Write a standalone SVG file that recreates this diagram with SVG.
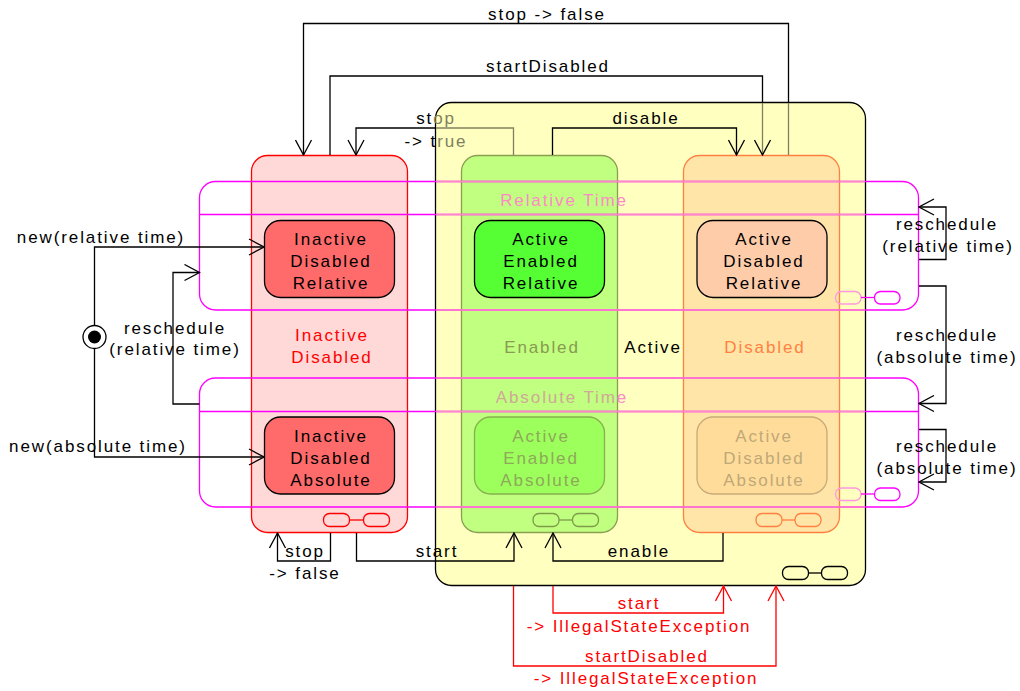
<svg xmlns="http://www.w3.org/2000/svg" width="1020" height="691" viewBox="0 0 1020 691">
<style>
text{font-family:"Liberation Sans",Arial,Helvetica,sans-serif;font-size:17px;letter-spacing:1.9px;text-anchor:middle;fill:#000}
.box{stroke-width:1.3}
.ico{fill:none;stroke-width:1.3}
.c{fill:none;stroke:#000;stroke-width:1.3}
.cg{fill:none;stroke:#808060;stroke-width:1.3}
.cr{fill:none;stroke:#ff0000;stroke-width:1.3}
.band{fill:none;stroke:#ff00ff;stroke-width:1.3}
.bandin{fill:none;stroke:#ff88c8;stroke-width:1.3}
</style>
<defs>
<marker id="a" viewBox="-16 -9 17 18" refX="0" refY="0" markerWidth="17" markerHeight="18" markerUnits="userSpaceOnUse" orient="auto"><path d="M-15,-8 L0,0 L-15,8" fill="none" stroke="#000" stroke-width="1.3"/></marker>
<marker id="ar" viewBox="-16 -9 17 18" refX="0" refY="0" markerWidth="17" markerHeight="18" markerUnits="userSpaceOnUse" orient="auto"><path d="M-15,-8 L0,0 L-15,8" fill="none" stroke="#ff0000" stroke-width="1.3"/></marker>
</defs>

<g id="active">
<rect class="box" x="435.5" y="102.5" width="430" height="483" rx="16" fill="#ffffc0" stroke="#000"/>
<rect class="ico" x="782.5" y="566.5" width="26" height="13" rx="6" stroke="#000"/>
<rect class="ico" x="821.5" y="566.5" width="26" height="13" rx="6" stroke="#000"/>
<line x1="808.5" y1="573" x2="821.5" y2="573" stroke="#000" stroke-width="1.3"/>
<text x="653" y="353">Active</text>
</g>

<g id="inactive-disabled">
<rect class="box" x="251.5" y="155.5" width="156" height="377" rx="16" fill="#ffd8d8" stroke="#ff0000"/>
<rect class="ico" x="323.5" y="513.5" width="26" height="13" rx="6" stroke="#ff0000"/>
<rect class="ico" x="363.5" y="513.5" width="26" height="13" rx="6" stroke="#ff0000"/>
<line x1="349.5" y1="520" x2="363.5" y2="520" stroke="#ff0000" stroke-width="1.3"/>
<text x="332" y="341" fill="#ff0000" style="fill:#ff0000">Inactive</text>
<text x="332" y="363" style="fill:#ff0000">Disabled</text>
</g>

<g id="enabled">
<rect class="box" x="461.5" y="155.5" width="156" height="377" rx="16" fill="#c0ff80" stroke="#8aa050"/>
<rect class="ico" x="533" y="513.5" width="26" height="13" rx="6" stroke="#7f9a48"/>
<rect class="ico" x="572.5" y="513.5" width="26" height="13" rx="6" stroke="#7f9a48"/>
<line x1="559" y1="520" x2="572.5" y2="520" stroke="#7f9a48" stroke-width="1.3"/>
<text x="542" y="353" style="fill:#8a9a50">Enabled</text>
</g>

<g id="disabled">
<rect class="box" x="683.5" y="155.5" width="156" height="377" rx="16" fill="#ffe6a8" stroke="#ff8040"/>
<rect class="ico" x="756" y="513.5" width="26" height="13" rx="6" stroke="#ff8040"/>
<rect class="ico" x="795" y="513.5" width="26" height="13" rx="6" stroke="#ff8040"/>
<line x1="782" y1="520" x2="795" y2="520" stroke="#ff8040" stroke-width="1.3"/>
<text x="765" y="353" style="fill:#ff8040">Disabled</text>
</g>

<g id="relative-time">
<rect class="band" x="199.5" y="181.5" width="719" height="128.5" rx="16"/>
<line class="band" x1="199.5" y1="214.5" x2="918.5" y2="214.5"/>
<path class="bandin" d="M436.2,181.5 H865 M436.2,214.5 H865 M436.2,310 H865"/>
<rect class="ico" x="835.5" y="291.5" width="25.5" height="12.5" rx="6" stroke="#ff99dd"/>
<rect class="ico" x="874.5" y="291.5" width="25.5" height="12.5" rx="6" stroke="#ff00ff"/>
<line x1="861" y1="297.5" x2="874.5" y2="297.5" stroke="#ff00ff" stroke-width="1.3"/>
<text x="564" y="206" style="fill:#ff88c8">Relative Time</text>
</g>

<g id="absolute-time">
<rect class="band" x="199.5" y="378" width="719" height="129" rx="16"/>
<line class="band" x1="199.5" y1="411.5" x2="918.5" y2="411.5"/>
<path class="bandin" d="M436.2,378 H865 M436.2,411.5 H865 M436.2,507 H865"/>
<rect class="ico" x="835.5" y="488" width="25.5" height="12.5" rx="6" stroke="#ff99dd"/>
<rect class="ico" x="874.5" y="488" width="25.5" height="12.5" rx="6" stroke="#ff00ff"/>
<line x1="861" y1="494" x2="874.5" y2="494" stroke="#ff00ff" stroke-width="1.3"/>
<text x="562" y="403"><tspan style="fill:#d0a898">Absolute Tim</tspan><tspan style="fill:#ff88c8">e</tspan></text>
</g>

<g id="inactive-disabled-relative">
<rect class="box" x="264.5" y="220.5" width="130" height="77" rx="16" fill="#ff6b6b" stroke="#000"/>
<text x="331" y="245">Inactive</text><text x="331" y="267">Disabled</text><text x="331" y="289">Relative</text>
</g>
<g id="active-enabled-relative">
<rect class="box" x="474.5" y="220.5" width="130" height="77" rx="16" fill="#55ff33" stroke="#000"/>
<text x="541" y="245">Active</text><text x="541" y="267">Enabled</text><text x="541" y="289">Relative</text>
</g>
<g id="active-disabled-relative">
<rect class="box" x="697" y="220.5" width="130" height="77" rx="16" fill="#ffccaa" stroke="#000"/>
<text x="764" y="245">Active</text><text x="764" y="267">Disabled</text><text x="764" y="289">Relative</text>
</g>
<g id="inactive-disabled-absolute">
<rect class="box" x="264.5" y="417" width="130" height="77" rx="16" fill="#ff6b6b" stroke="#000"/>
<text x="331" y="442">Inactive</text><text x="331" y="464">Disabled</text><text x="331" y="486">Absolute</text>
</g>
<g id="active-enabled-absolute">
<rect class="box" x="474.5" y="417" width="130" height="77" rx="16" fill="#9cff5c" stroke="#88b050"/>
<text x="541" y="442" style="fill:#8fa85a">Active</text><text x="541" y="464" style="fill:#8fa85a">Enabled</text><text x="541" y="486" style="fill:#8fa85a">Absolute</text>
</g>
<g id="active-disabled-absolute">
<rect class="box" x="697" y="417" width="130" height="77" rx="16" fill="#ffdc9a" stroke="#c8aa78"/>
<text x="764" y="442" style="fill:#c0a878">Active</text><text x="764" y="464" style="fill:#c0a878">Disabled</text><text x="764" y="486" style="fill:#c0a878">Absolute</text>
</g>

<g id="initial">
<circle cx="94.5" cy="337" r="11.5" fill="#fff" stroke="#000" stroke-width="1.3"/>
<circle cx="94.5" cy="337" r="6.5" fill="#000"/>
</g>

<g id="connectors">
<path class="c" d="M788.5,102 V23.5 H303.5 V155" marker-end="url(#a)"/>
<path class="cg" d="M788.5,155 V103"/>
<text x="547" y="20">stop -&gt; false</text>

<path class="c" d="M330,155 V76 H762.5 V102"/>
<path class="cg" d="M762.5,103 V155" marker-end="url(#a)"/>
<text x="548" y="72">startDisabled</text>

<path class="cg" d="M513.5,155 V128 H436"/>
<path class="c" d="M436,128 H356 V155" marker-end="url(#a)"/>
<text x="436" y="124"><tspan>st</tspan><tspan style="fill:#808060">op</tspan></text>
<text x="436" y="146.5"><tspan>-&gt; t</tspan><tspan style="fill:#808060">rue</tspan></text>

<path class="c" d="M552.5,155 V128 H736.5 V155" marker-end="url(#a)"/>
<text x="646" y="124">disable</text>

<path class="c" d="M356.5,533 V561 H514 V533" marker-end="url(#a)"/>
<text x="437" y="557">start</text>

<path class="c" d="M723,533 V561 H553 V533" marker-end="url(#a)"/>
<text x="639" y="557">enable</text>

<path class="c" d="M330.5,533 V561 H277.5 V533" marker-end="url(#a)"/>
<text x="305" y="557">stop</text>
<text x="305" y="578.5">-&gt; false</text>

<path class="c" d="M94.5,325.5 V247 H264" marker-end="url(#a)"/>
<text x="101" y="243">new(relative time)</text>

<path class="c" d="M94.5,348.5 V457 H264" marker-end="url(#a)"/>
<text x="98" y="452">new(absolute time)</text>

<path class="c" d="M199.5,404 H173 V272.5 H199.5" marker-end="url(#a)"/>
<text x="175" y="333.5">reschedule</text>
<text x="175" y="355">(relative time)</text>

<path class="c" d="M919,259.5 H946 V207 H919" marker-end="url(#a)"/>
<text x="947" y="230">reschedule</text>
<text x="948" y="252">(relative time)</text>

<path class="c" d="M919,286 H946 V403.5 H919" marker-end="url(#a)"/>
<text x="947" y="341">reschedule</text>
<text x="947" y="363">(absolute time)</text>

<path class="c" d="M919,429.5 H946 V482 H919" marker-end="url(#a)"/>
<text x="947" y="452">reschedule</text>
<text x="947" y="473.5">(absolute time)</text>

<path class="cr" d="M553,586 V613 H723.5 V586" marker-end="url(#ar)"/>
<text x="639" y="609" style="fill:#ff0000">start</text>
<text x="639" y="632" style="fill:#ff0000">-&gt; IllegalStateException</text>

<path class="cr" d="M513.5,586 V666 H776 V586" marker-end="url(#ar)"/>
<text x="647" y="661.5" style="fill:#ff0000">startDisabled</text>
<text x="646" y="684" style="fill:#ff0000">-&gt; IllegalStateException</text>
</g>
</svg>
